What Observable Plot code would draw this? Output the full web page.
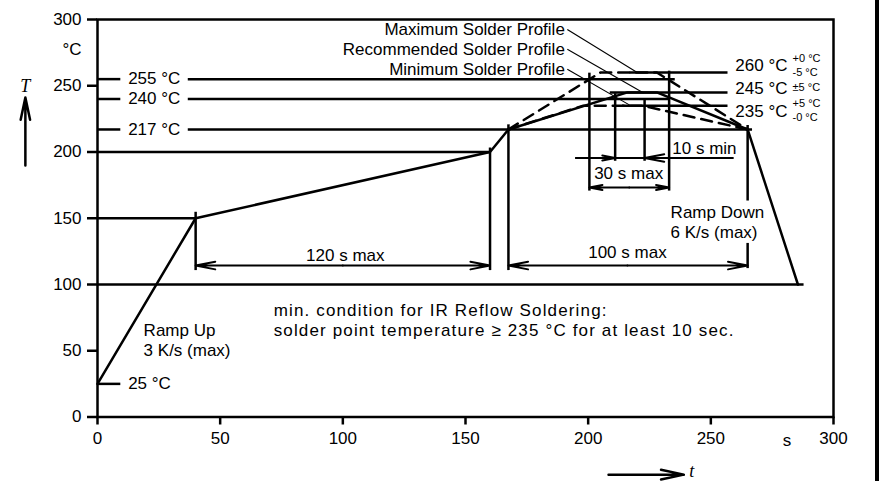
<!DOCTYPE html>
<html>
<head>
<meta charset="utf-8">
<script src="https://cdn.jsdelivr.net/npm/d3@7"></script>
<script src="https://cdn.jsdelivr.net/npm/@observablehq/plot@0.6"></script>
<style>
  html, body { margin: 0; padding: 0; background: #fff; }
  #wrap { position: relative; width: 882px; height: 481px; overflow: hidden; }
  #edge { position: absolute; left: 875px; top: 0; width: 4px; height: 481px; background: #000; }
</style>
</head>
<body>
<div id="wrap"><div id="edge"></div></div>
<script>
// ---- data ----
const xTicks = [0, 50, 100, 150, 200, 250, 300];
const yTicks = [0, 50, 100, 150, 200, 250, 300];

// preheat part of the profile (time s, temperature °C)
const preheat = [
  {t: 0, T: 25}, {t: 40, T: 150}, {t: 160, T: 200}, {t: 167.5, T: 217}
];
// recommended (solid) profile incl. ramp down
const recommended = [
  {t: 167.5, T: 217}, {t: 216, T: 245}, {t: 228, T: 245}, {t: 265, T: 217}, {t: 285.5, T: 100}
];
// maximum (dashed) profile
const maximum = [
  {t: 167.5, T: 217}, {t: 205, T: 260}, {t: 228, T: 260}, {t: 265, T: 217}
];
// minimum (dashed) profile
const minimum = [
  {t: 167.5, T: 217}, {t: 198, T: 235}, {t: 222, T: 235}, {t: 265, T: 217}
];

// horizontal level lines
const levelLines = [
  {T: 200, t1: 0, t2: 160},
  {T: 150, t1: 0, t2: 40},
  {T: 100, t1: 0, t2: 288},
  {T: 255, t1: 0, t2: 9.5}, {T: 255, t1: 37, t2: 235.5},
  {T: 240, t1: 0, t2: 9.5}, {T: 240, t1: 37, t2: 233},
  {T: 217, t1: 0, t2: 9.5}, {T: 217, t1: 37, t2: 267},
  {T: 25, t1: 0, t2: 9.5},
  {T: 260, t1: 217, t2: 257},
  {T: 245, t1: 209, t2: 257},
  {T: 235, t1: 214, t2: 257}
];

// vertical time markers
const timeMarkers = [
  {t: 40, T1: 154.5, T2: 110.5},
  {t: 160, T1: 203, T2: 110.5},
  {t: 167.5, T1: 220.5, T2: 110.5},
  {t: 265, T1: 220, T2: 163},
  {t: 265, T1: 131, T2: 112},
  {t: 200.5, T1: 259.5, T2: 170.5},
  {t: 233, T1: 261, T2: 170.5},
  {t: 211, T1: 244, T2: 193},
  {t: 223, T1: 239, T2: 193}
];

// dimension arrows
const dimArrows = [
  {t1: 100, t2: 40, T: 114.3}, {t1: 100, t2: 160, T: 114.3},
  {t1: 216, t2: 167.5, T: 114.3}, {t1: 216, t2: 265, T: 114.3},
  {t1: 216.75, t2: 200.5, T: 173.2}, {t1: 216.75, t2: 233, T: 173.2},
  {t1: 195, t2: 211, T: 195.5}, {t1: 259, t2: 223, T: 195.5}
];
const dimLines = [{T: 195.5, t1: 195, t2: 259}];

// leader lines from profile names
const leaders = [
  {t1: 191.5, T1: 292.5, t2: 220, T2: 260},
  {t1: 191.5, T1: 277.5, t2: 222.6, T2: 244.5},
  {t1: 191.5, T1: 262.5, t2: 217.3, T2: 235}
];

// text labels (17px)
const labels = [
  {t: 190.5, T: 292.5, text: "Maximum Solder Profile", anchor: "end"},
  {t: 190.5, T: 277.5, text: "Recommended Solder Profile", anchor: "end"},
  {t: 190.5, T: 262.5, text: "Minimum Solder Profile", anchor: "end"},
  {t: 12.5, T: 255.5, text: "255 °C", anchor: "start"},
  {t: 12.5, T: 240, text: "240 °C", anchor: "start"},
  {t: 12.5, T: 217, text: "217 °C", anchor: "start"},
  {t: 12.5, T: 25, text: "25 °C", anchor: "start"},
  {t: 260, T: 265.3, text: "260 °C", anchor: "start"},
  {t: 260, T: 248, text: "245 °C", anchor: "start"},
  {t: 260, T: 230.6, text: "235 °C", anchor: "start"},
  {t: 101, T: 122, text: "120 s max", anchor: "middle"},
  {t: 216, T: 124.4, text: "100 s max", anchor: "middle"},
  {t: 234.3, T: 202.4, text: "10 s min", anchor: "start"},
  {t: 216.5, T: 183.5, text: "30 s max", anchor: "middle"},
  {t: 18.8, T: 65.3, text: "Ramp Up", anchor: "start"},
  {t: 18.8, T: 50.2, text: "3 K/s (max)", anchor: "start"},
  {t: 233.6, T: 154.6, text: "Ramp Down", anchor: "start"},
  {t: 233.6, T: 139.5, text: "6 K/s (max)", anchor: "start"},
  {t: -10.4, T: 277.4, text: "°C", anchor: "middle"},
  {t: 281, T: -17.7, text: "s", anchor: "middle"}
];
// condition note (two lines, wider spacing)
const conditionNote = [
  {t: 71.8, T: 80.4, text: "min. condition for IR Reflow Soldering:"},
  {t: 71.8, T: 65.6, text: "solder point temperature \u2265 235 °C for at least 10 sec."}
];
// tolerance labels (small)
const tolerances = [
  {t: 283.3, T: 270.3, text: "+0 °C"},
  {t: 283.3, T: 260.2, text: "-5 °C"},
  {t: 283.3, T: 249, text: "±5 °C"},
  {t: 283.3, T: 236.8, text: "+5 °C"},
  {t: 283.3, T: 226.2, text: "-0 °C"}
];
// axis symbols
const symbols = [
  {t: -29.4, T: 249.4, text: "T"},
  {t: 242.2, T: -41.3, text: "t"}
];
const symbolArrows = [
  {t1: -29.4, T1: 189.8, t2: -29.4, T2: 241.1},
  {t1: 208.3, T1: -43.5, t2: 239, T2: -43.5}
];

// ---- chart ----
const SW = 2.5;
const txt = (anchor) => Plot.text(labels.filter((d) => d.anchor === anchor),
  {x: "t", y: "T", text: "text", textAnchor: anchor, fontSize: 17});
const chart = Plot.plot({
  width: 882,
  height: 481,
  marginLeft: 97,
  marginRight: 49,
  marginTop: 19,
  marginBottom: 64.5,
  x: {domain: [0, 300]},
  y: {domain: [0, 300]},
  style: {fontFamily: "'Liberation Sans', Arial, sans-serif", fontSize: "17px", color: "#000", background: "transparent", overflow: "visible"},
  marks: [
    Plot.axisY({ticks: yTicks, tickSize: 10, tickPadding: 6, fontSize: 17, label: null, strokeWidth: SW}),
    Plot.axisX({ticks: xTicks, tickSize: 8, tickPadding: 7, fontSize: 17, label: null, strokeWidth: SW}),
    Plot.ruleY(levelLines, {y: "T", x1: "t1", x2: "t2", strokeWidth: SW}),
    Plot.ruleX(timeMarkers, {x: "t", y1: "T1", y2: "T2", strokeWidth: SW}),
    Plot.ruleY(dimLines, {y: "T", x1: "t1", x2: "t2", strokeWidth: 2}),
    Plot.arrow(dimArrows, {x1: "t1", x2: "t2", y1: "T", y2: "T", strokeWidth: 2, headLength: 15, headAngle: 22}),
    Plot.link(leaders, {x1: "t1", y1: "T1", x2: "t2", y2: "T2", strokeWidth: 1.1}),
    Plot.line(preheat, {x: "t", y: "T", strokeWidth: SW}),
    Plot.line(recommended, {x: "t", y: "T", strokeWidth: SW}),
    Plot.line(maximum, {x: "t", y: "T", strokeWidth: SW, strokeDasharray: "11,7"}),
    Plot.line(minimum, {x: "t", y: "T", strokeWidth: SW, strokeDasharray: "11,7"}),
    txt("start"),
    txt("middle"),
    txt("end"),
    Plot.text(conditionNote, {x: "t", y: "T", text: "text", textAnchor: "start", fontSize: 17}),
    Plot.text(tolerances, {x: "t", y: "T", text: "text", textAnchor: "start", fontSize: 11}),
    Plot.text(symbols, {x: "t", y: "T", text: "text", fontSize: 18, fontStyle: "italic", fontFamily: "'Liberation Serif', 'Times New Roman', serif"}),
    Plot.arrow(symbolArrows, {x1: "t1", y1: "T1", x2: "t2", y2: "T2", strokeWidth: 2.5, headLength: 14, headAngle: 24}),
    Plot.frame({strokeWidth: SW})
  ]
});
// wider letter spacing of the condition note, as in the reference
const noteTexts = new Set(conditionNote.map((d) => d.text));
d3.select(chart).selectAll("text")
  .filter(function () { return noteTexts.has(this.textContent); })
  .attr("letter-spacing", "1.15px");
document.getElementById("wrap").appendChild(chart);
</script>
</body>
</html>
